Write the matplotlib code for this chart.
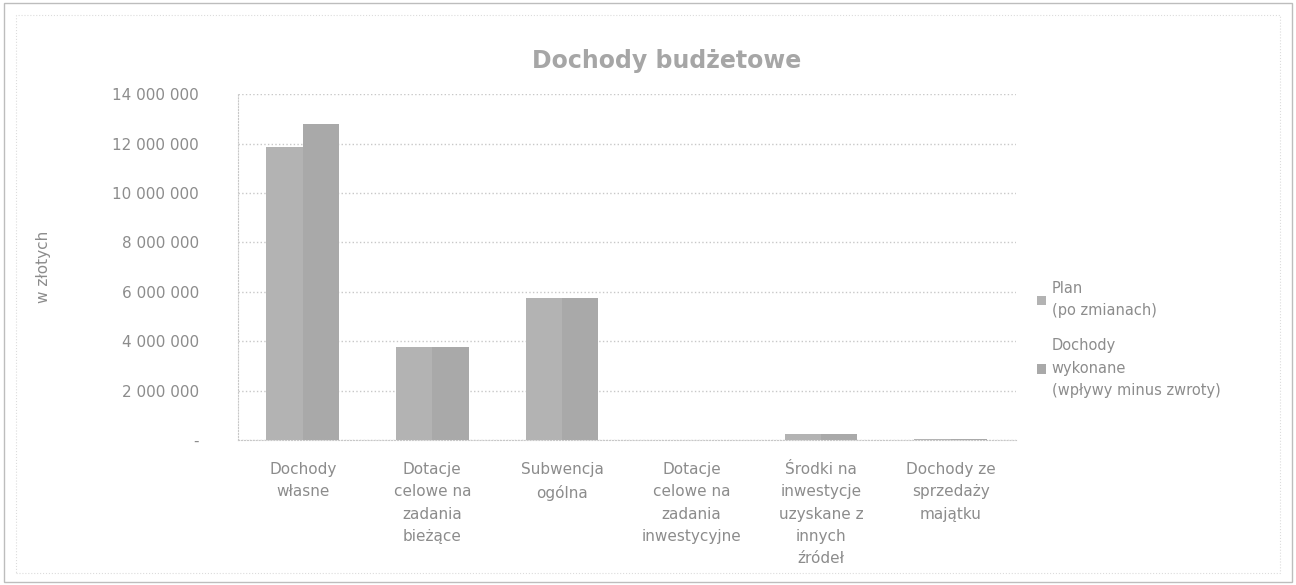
import matplotlib.pyplot as plt
import numpy as np
from matplotlib.ticker import FuncFormatter
from matplotlib.patches import Rectangle

# Dochody budzetowe - plan vs wykonanie
categories = ['Dochody\nwłasne', 'Dotacje\ncelowe na\nzadania\nbieżące', 'Subwencja\nogólna',
              'Dotacje\ncelowe na\nzadania\ninwestycyjne',
              'Środki na\ninwestycje\nuzyskane z\ninnych\nźródeł',
              'Dochody ze\nsprzedaży\nmajątku']
plan = [11850000, 3780000, 5750000, 0, 250000, 30000]
wykonane = [12780000, 3770000, 5740000, 0, 250000, 20000]
labels = ['Plan\n(po zmianach)', 'Dochody\nwykonane\n(wpływy minus zwroty)']

txt = '#8c8c8c'
fig = plt.figure(figsize=(12.96, 5.85), dpi=100)
fig.patches.append(Rectangle((0.003, 0.005), 0.994, 0.99, transform=fig.transFigure,
                             fill=False, edgecolor='#bdbdbd', lw=1))
fig.patches.append(Rectangle((0.012, 0.02), 0.976, 0.955, transform=fig.transFigure,
                             fill=False, edgecolor='#dcdcdc', lw=0.8, linestyle=':'))
ax = fig.add_axes([0.1836, 0.248, 0.600, 0.591])

x = np.arange(len(categories))
w = 0.28
ax.bar(x - w / 2, plan, w, color='#b3b3b3', label=labels[0])
ax.bar(x + w / 2, wykonane, w, color='#a9a9a9', label=labels[1])

ax.set_ylim(0, 14000000)
ax.set_xlim(-0.5, len(categories) - 0.5)
ax.set_yticks(np.arange(0, 14000001, 2000000))
ax.yaxis.set_major_formatter(FuncFormatter(
    lambda v, p: '-' if v == 0 else f'{int(v):,}'.replace(',', ' ')))
ax.set_xticks(x)
ax.set_xticklabels(categories, color=txt, fontsize=11, linespacing=1.6)
ax.tick_params(axis='y', colors=txt, labelsize=11, length=0, pad=28)
ax.tick_params(axis='x', length=0, pad=16)
ax.grid(axis='y', color='#c8c8c8', linestyle=':', lw=1)
ax.set_axisbelow(True)
for s in ['top', 'right']:
    ax.spines[s].set_visible(False)
ax.spines['left'].set_color('#c8c8c8')
ax.spines['left'].set_linestyle(':')
ax.spines['bottom'].set_color('#c8c8c8')
ax.spines['bottom'].set_linestyle(':')
ax.set_ylabel('w złotych', color=txt, fontsize=11, labelpad=44)

fig.text(0.514, 0.895, 'Dochody budżetowe', ha='center', va='center',
         fontsize=17, fontweight='bold', color='#a6a6a6')

leg = fig.legend(loc='center left', bbox_to_anchor=(0.79, 0.42), frameon=False,
                 fontsize=10.5, labelcolor=txt, handlelength=0.6, handleheight=0.6,
                 handletextpad=0.4, labelspacing=1.4)
for t in leg.get_texts():
    t.set_linespacing(1.6)

fig.savefig('out.png', dpi=100)
